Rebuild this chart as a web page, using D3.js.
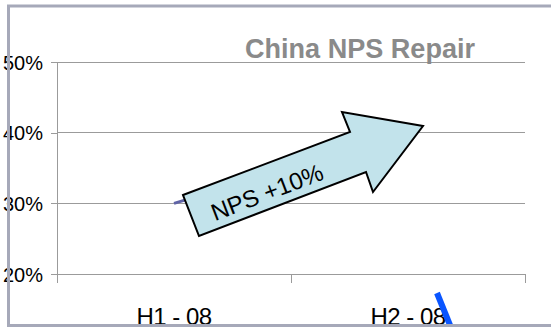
<!DOCTYPE html>
<html>
<head>
<meta charset="utf-8">
<script src="https://cdn.jsdelivr.net/npm/d3@7"></script>
<style>
  html, body { margin: 0; padding: 0; background: #fff; }
  svg { display: block; font-family: "Liberation Sans", Arial, sans-serif; }
</style>
</head>
<body>
<svg id="chart" width="551" height="327"></svg>
<script>
// Chart data
const categories = ["H1 - 08", "H2 - 08"];
const npsValues = [0.30, 0.40];
const yTicks = [0.2, 0.3, 0.4, 0.5];
const titleText = "China NPS Repair";
const arrowLabel = "NPS +10%";

const svg = d3.select("#chart");
const W = 551, H = 327;
const plot = { left: 57, right: 525, top: 62, bottom: 274 };

const x = d3.scaleBand().domain(categories).range([plot.left, plot.right]).padding(0);
const y = d3.scaleLinear().domain([0.2, 0.5]).range([plot.bottom, plot.top]);

svg.append("rect").attr("width", W).attr("height", H).attr("fill", "#fff");

// Horizontal gridlines
svg.append("g").selectAll("line").data(yTicks).join("line")
  .attr("x1", plot.left).attr("x2", plot.right)
  .attr("y1", d => y(d)).attr("y2", d => y(d))
  .attr("stroke", "#9b9b9b").attr("stroke-width", 1).attr("shape-rendering", "crispEdges");

// Value axis
const yAxis = svg.append("g").attr("transform", `translate(${plot.left},0)`)
  .call(d3.axisLeft(y).tickValues(yTicks).tickFormat(d3.format(".0%")).tickSize(6).tickPadding(8));
yAxis.select(".domain").remove();
yAxis.selectAll(".tick line").attr("stroke", "#9b9b9b").attr("shape-rendering", "crispEdges");
yAxis.selectAll(".tick text").attr("font-size", 20).attr("fill", "#000")
  .attr("font-family", "Liberation Sans, Arial, sans-serif").attr("dy", "0.35em");

// Vertical axis line, extended down to the category tick length
svg.append("line")
  .attr("x1", plot.left).attr("x2", plot.left)
  .attr("y1", plot.top).attr("y2", plot.bottom + 9)
  .attr("stroke", "#9b9b9b").attr("shape-rendering", "crispEdges");

// Category ticks on band boundaries
const edges = categories.map(c => x(c)).concat([x(categories[categories.length - 1]) + x.bandwidth()]);
svg.append("g").selectAll("line").data(edges).join("line")
  .attr("x1", d => d).attr("x2", d => d)
  .attr("y1", plot.bottom).attr("y2", plot.bottom + 9)
  .attr("stroke", "#9b9b9b").attr("shape-rendering", "crispEdges");

// Category labels
svg.append("g").selectAll("text").data(categories).join("text")
  .attr("x", d => x(d) + x.bandwidth() / 2)
  .attr("y", 325)
  .attr("text-anchor", "middle")
  .attr("font-size", 24)
  .attr("letter-spacing", -0.5)
  .attr("fill", "#000")
  .text(d => d);

// NPS line
const line = d3.line().x((d, i) => x(categories[i]) + x.bandwidth() / 2).y(d => y(d));
svg.append("path").datum(npsValues)
  .attr("d", line)
  .attr("fill", "none")
  .attr("stroke", "#5f63a6")
  .attr("stroke-width", 3);

// Block arrow annotation over the line
const arrowPts = [
  [183, 195], [350, 132], [342, 112], [423, 126],
  [373, 192], [366, 172], [199, 236]
];
svg.append("polygon")
  .attr("points", arrowPts.map(p => p.join(",")).join(" "))
  .attr("fill", "#c2e3eb")
  .attr("stroke", "#000")
  .attr("stroke-width", 2)
  .attr("stroke-linejoin", "miter");

svg.append("text")
  .attr("transform", "translate(270,200) rotate(-21)")
  .attr("text-anchor", "middle")
  .attr("font-size", 24)
  .attr("fill", "#000")
  .text(arrowLabel);

// Title
svg.append("text")
  .attr("x", 245).attr("y", 58)
  .attr("font-size", 27)
  .attr("font-weight", "bold")
  .attr("fill", "#8a8a8a")
  .attr("textLength", 230)
  .attr("lengthAdjust", "spacingAndGlyphs")
  .text(titleText);

// Pen stroke near the lower right
svg.append("line")
  .attr("x1", 437).attr("y1", 293).attr("x2", 452).attr("y2", 330)
  .attr("stroke", "#0a55ff").attr("stroke-width", 6);

// Slide frame
svg.append("path")
  .attr("d", `M${W + 5},6 H8.5 V325.5 H${W + 5}`)
  .attr("fill", "none")
  .attr("stroke", "#a6a9b9")
  .attr("stroke-width", 3);
</script>
</body>
</html>
